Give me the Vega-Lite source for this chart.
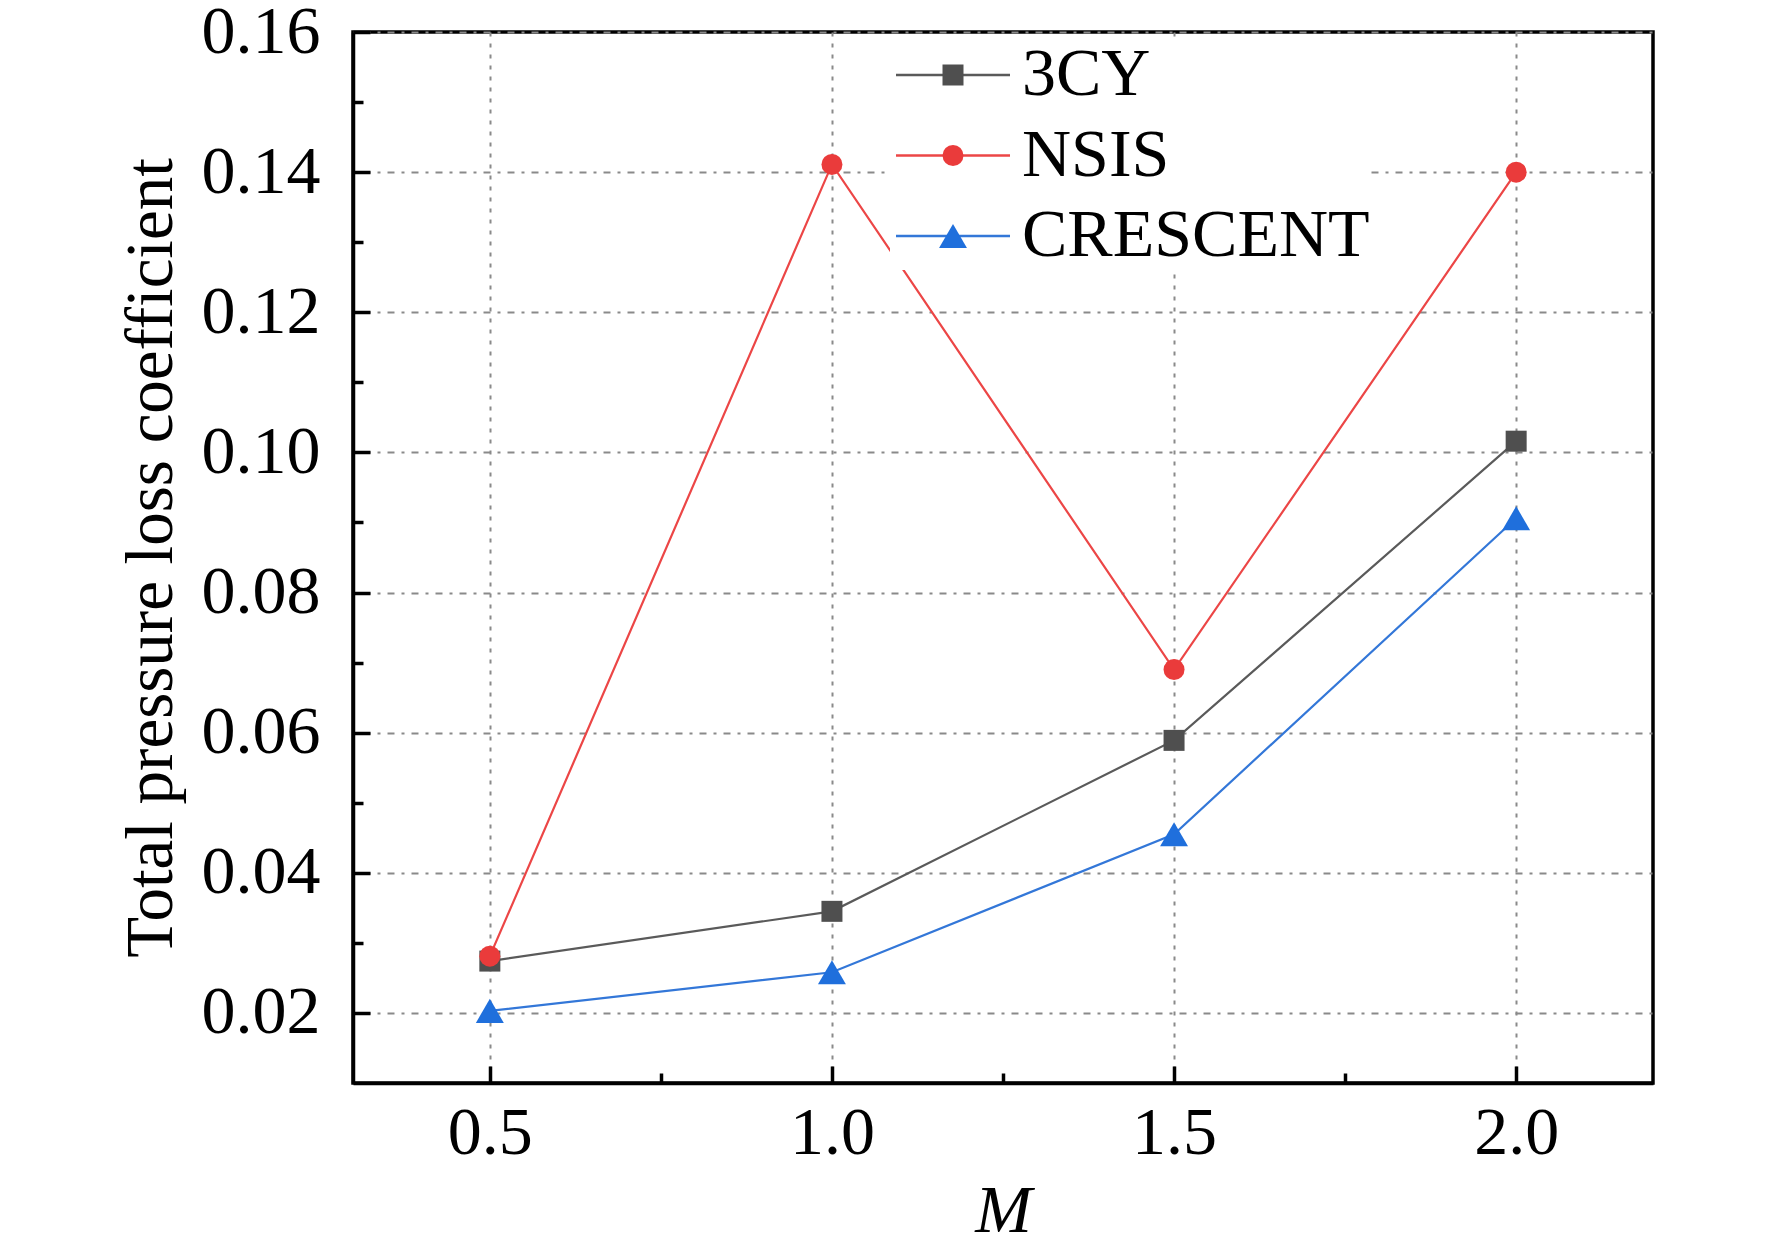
{
  "$schema": "https://vega.github.io/schema/vega-lite/v6.json",
  "width": 1300,
  "height": 1051,
  "autosize": "none",
  "padding": {"left": 353, "top": 32, "right": 119, "bottom": 166},
  "background": "white",
  "data": {
    "values": [
      {"M": 0.5, "series": "3CY", "value": 0.0274},
      {"M": 1.0, "series": "3CY", "value": 0.0345},
      {"M": 1.5, "series": "3CY", "value": 0.0589},
      {"M": 2.0, "series": "3CY", "value": 0.1016},
      {"M": 0.5, "series": "NSIS", "value": 0.0281},
      {"M": 1.0, "series": "NSIS", "value": 0.1411},
      {"M": 1.5, "series": "NSIS", "value": 0.069},
      {"M": 2.0, "series": "NSIS", "value": 0.14},
      {"M": 0.5, "series": "CRESCENT", "value": 0.0203},
      {"M": 1.0, "series": "CRESCENT", "value": 0.0258},
      {"M": 1.5, "series": "CRESCENT", "value": 0.0455},
      {"M": 2.0, "series": "CRESCENT", "value": 0.0906}
    ]
  },
  "encoding": {
    "x": {
      "field": "M",
      "type": "quantitative",
      "scale": {"domain": [0.3, 2.2], "nice": false, "zero": false},
      "axis": {
        "title": "M",
        "titleFontStyle": "italic",
        "titleFontWeight": "normal",
        "titlePadding": 10,
        "values": [0.5, 0.75, 1.0, 1.25, 1.5, 1.75, 2.0],
        "labelExpr": "round(datum.value*100) % 50 != 0 ? '' : format(datum.value, '.1f')",
        "tickSize": {"condition": {"test": "round(datum.value*100) % 50 != 0", "value": -10}, "value": -17},
        "gridOpacity": {"condition": {"test": "round(datum.value*100) % 50 != 0", "value": 0}, "value": 1},
        "gridDash": [4, 7],
        "labelPadding": 33
      }
    },
    "y": {
      "field": "value",
      "type": "quantitative",
      "scale": {"domain": [0.01, 0.16], "nice": false, "zero": false},
      "axis": {
        "title": "Total pressure loss coefficient",
        "titleFontWeight": "normal",
        "titleFontSize": 67,
        "titlePadding": 16,
        "values": [0.02, 0.03, 0.04, 0.05, 0.06, 0.07, 0.08, 0.09, 0.1, 0.11, 0.12, 0.13, 0.14, 0.15, 0.16],
        "labelExpr": "round(datum.value*100) % 2 == 1 ? '' : format(datum.value, '.2f')",
        "tickSize": {"condition": {"test": "round(datum.value*100) % 2 == 1", "value": -10}, "value": -17},
        "gridOpacity": {"condition": {"test": "round(datum.value*100) % 2 == 1", "value": 0}, "value": 1},
        "gridDash": [3, 7, 7, 7],
        "labelPadding": 50
      }
    }
  },
  "layer": [
    {
      "mark": {"type": "line", "strokeWidth": 2.2},
      "encoding": {
        "color": {
          "field": "series",
          "type": "nominal",
          "scale": {"domain": ["3CY", "NSIS", "CRESCENT"], "range": ["#5a5a5a", "#ec4646", "#3377d8"]},
          "legend": {
            "title": null,
            "orient": "none",
            "legendX": 537,
            "legendY": 9,
            "symbolType": "M-3,0H3",
            "symbolSize": 1444,
            "symbolStrokeWidth": 2.5,
            "symbolOffset": 29,
            "labelOffset": 35,
            "rowPadding": 12.5,
            "fillColor": "white",
            "padding": 0,
            "zindex": 1
          }
        }
      }
    },
    {
      "mark": {"type": "point", "filled": true, "opacity": 1, "size": 441, "strokeWidth": 0},
      "encoding": {
        "color": {
          "field": "series",
          "type": "nominal",
          "scale": {"domain": ["3CY", "NSIS", "CRESCENT"], "range": ["#4f4f4f", "#ea3b3b", "#1f6fdc"]},
          "legend": {
            "title": null,
            "orient": "none",
            "legendX": 537,
            "legendY": 9,
            "symbolSize": 441,
            "symbolStrokeWidth": 0,
            "symbolOffset": 29,
            "labelOffset": 35,
            "rowPadding": 12.5,
            "labelColor": "transparent",
            "padding": 0,
            "zindex": 2
          }
        },
        "shape": {
          "field": "series",
          "type": "nominal",
          "scale": {"domain": ["3CY", "NSIS", "CRESCENT"], "range": ["square", "circle", "M0,-1.15L1.33,1.15L-1.33,1.15Z"]},
          "legend": {
            "title": null,
            "orient": "none",
            "legendX": 537,
            "legendY": 9,
            "symbolSize": 441,
            "symbolStrokeWidth": 0,
            "symbolOffset": 29,
            "labelOffset": 35,
            "rowPadding": 12.5,
            "labelColor": "transparent",
            "padding": 0,
            "zindex": 2
          }
        }
      }
    }
  ],
  "resolve": {"scale": {"color": "independent"}, "legend": {"color": "independent", "shape": "independent"}},
  "config": {
    "font": "Liberation Serif",
    "view": {"stroke": "black", "strokeWidth": 3.5},
    "axis": {
      "labelFont": "Liberation Serif",
      "labelFontSize": 68,
      "labelColor": "black",
      "titleFont": "Liberation Serif",
      "titleFontSize": 68,
      "titleColor": "black",
      "domainColor": "black",
      "domainWidth": 3.5,
      "tickColor": "black",
      "tickWidth": 3.5,
      "gridColor": "#8a8a8a",
      "gridWidth": 2,
      "grid": true
    },
    "legend": {
      "labelFont": "Liberation Serif",
      "labelFontSize": 68,
      "labelColor": "black",
      "labelLimit": 1000
    }
  }
}
